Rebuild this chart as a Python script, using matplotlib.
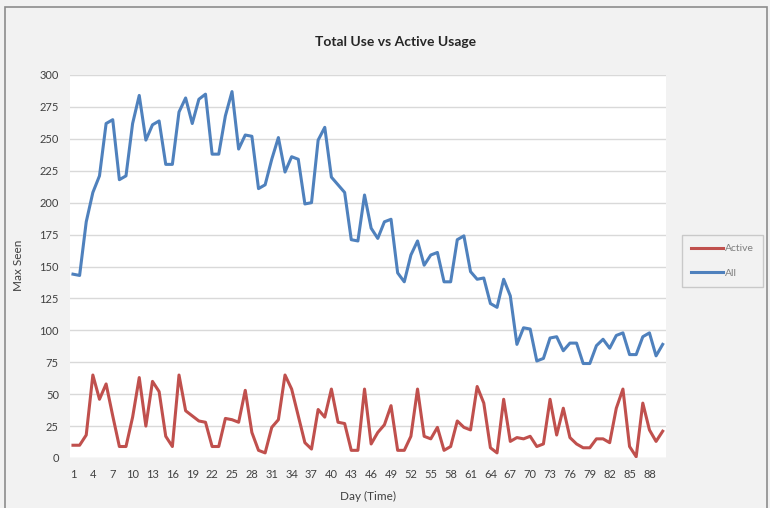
import numpy as np
import matplotlib.pyplot as plt
from matplotlib.patches import Rectangle

plt.rcParams['font.family'] = ['Lato', 'DejaVu Sans']

# daily values
days = np.arange(1, 91)
all_usage = [144, 143, 185, 208, 221, 262, 265, 218, 221, 262,
             284, 249, 261, 264, 230, 230, 271, 282, 262, 281,
             285, 238, 238, 268, 287, 242, 253, 252, 211, 214,
             234, 251, 224, 236, 234, 199, 200, 249, 259, 220,
             214, 208, 171, 170, 206, 180, 172, 185, 187, 145,
             138, 159, 170, 151, 159, 161, 138, 138, 171, 174,
             146, 140, 141, 121, 118, 140, 127, 89, 102, 101,
             76, 78, 94, 95, 84, 90, 90, 74, 74, 88,
             93, 86, 96, 98, 81, 81, 95, 98, 80, 89]
active_usage = [10, 10, 18, 65, 46, 58, 33, 9, 9, 32,
                63, 25, 60, 52, 17, 9, 65, 37, 33, 29,
                28, 9, 9, 31, 30, 28, 53, 20, 6, 4,
                24, 30, 65, 54, 33, 12, 7, 38, 32, 54,
                28, 27, 6, 6, 54, 11, 20, 26, 41, 6,
                6, 17, 54, 17, 15, 24, 6, 9, 29, 24,
                22, 56, 43, 8, 4, 46, 13, 16, 15, 17,
                9, 11, 46, 18, 39, 16, 11, 8, 8, 15,
                15, 12, 39, 54, 9, 1, 43, 22, 13, 21]
x_ticks = list(range(1, 90, 3))
y_ticks = list(range(0, 301, 25))

red = "#C0504D"
blue = "#4F81BD"
text_col = "#404040"

fig = plt.figure(figsize=(7.7, 5.08), dpi=100, facecolor="#f2f2f2")
ax = fig.add_axes([70/770, 1 - 458/508, 596/770, 383/508])
ax.set_facecolor("white")

# outer chart border
fig.patches.append(Rectangle((5/770, -0.01), 762/770, 1 - 7/508 + 0.01,
                             transform=fig.transFigure, fill=False,
                             edgecolor="#8c8c8c", linewidth=1.2))

ax.plot(days, active_usage, color=red, linewidth=2.2, label="Active")
ax.plot(days, all_usage, color=blue, linewidth=2.2, label="All")

ax.set_xlim(0.55, 90.5)
ax.set_ylim(0, 300)
ax.set_xticks(x_ticks)
ax.set_yticks(y_ticks)
ax.tick_params(length=0, labelsize=8, colors=text_col, pad=8)
ax.grid(axis="y", color="#d9d9d9", linewidth=1)
ax.set_axisbelow(True)
for s in ax.spines.values():
    s.set_visible(False)

fig.text(396/770, 1 - 42/508, "Total Use vs Active Usage", ha="center",
         va="center", fontsize=10, fontweight="bold", color="#262626")
fig.text(368/770, 1 - 496/508, "Day (Time)", ha="center", va="center",
         fontsize=8.5, color=text_col)
fig.text(19/770, 1 - 265/508, "Max Seen", ha="center", va="center",
         rotation=90, fontsize=8.5, color=text_col)

leg = ax.legend(loc="center left", bbox_to_anchor=(682/770, 1 - 261/508),
                bbox_transform=fig.transFigure, fontsize=7.5, frameon=True,
                fancybox=False, edgecolor="#bfbfbf", handlelength=3,
                labelspacing=1.5, borderpad=0.9, handletextpad=0.2,
                borderaxespad=0)
leg.get_frame().set_facecolor("#f2f2f2")
for t in leg.get_texts():
    t.set_color("#7f7f7f")

fig.savefig("out.png", dpi=100, facecolor=fig.get_facecolor())
